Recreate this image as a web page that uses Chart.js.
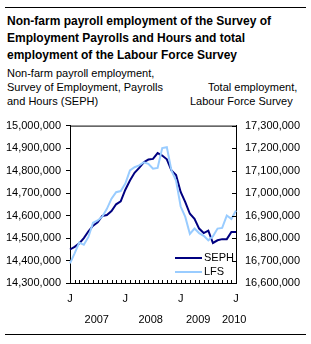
<!DOCTYPE html>
<html>
<head>
<meta charset="utf-8">
<script src="https://cdn.jsdelivr.net/npm/chart.js@4"></script>
<style>
  body { margin: 0; width: 311px; height: 344px; position: relative; background: #fff; overflow: hidden;
         font-family: "Liberation Sans", Arial, sans-serif; color: #000; }
  .rule { position: absolute; left: 5px; width: 301px; height: 0; border-top: 1px solid #000; }
  #title { position: absolute; left: 7px; top: 13px; font-size: 12px; font-weight: bold; line-height: 17px; white-space: nowrap; }
  #subLeft { position: absolute; left: 7px; top: 66px; font-size: 11px; line-height: 14px; white-space: nowrap; }
  .subRight { position: absolute; font-size: 11px; line-height: 14px; white-space: nowrap; }
  #wrap { position: absolute; left: 0; top: 110px; width: 311px; height: 234px; }
</style>
</head>
<body>
<div class="rule" style="top:7px"></div>
<div id="title">Non-farm payroll employment of the Survey of<br>Employment Payrolls and Hours and total<br>employment of the Labour Force Survey</div>
<div id="subLeft">Non-farm payroll employment,<br>Survey of Employment, Payrolls<br>and Hours (SEPH)</div>
<div class="subRight" style="left:208px;top:80px">Total employment,</div>
<div class="subRight" style="left:190px;top:94px">Labour Force Survey</div>
<div id="wrap"><canvas id="chart"></canvas></div>
<div class="rule" style="top:334px"></div>

<script>
// monthly, January 2007 to January 2010
const months = ['J','F','M','A','M','J','J','A','S','O','N','D',
                'J','F','M','A','M','J','J','A','S','O','N','D',
                'J','F','M','A','M','J','J','A','S','O','N','D',
                'J'];
const years = ['2007', '2008', '2009', '2010'];

// SEPH, thousands (left axis)
const seph = [14449, 14461, 14476, 14500, 14530, 14555, 14570, 14598, 14602, 14620, 14650, 14663,
              14715, 14756, 14790, 14812, 14837, 14849, 14852, 14878, 14867, 14850, 14801, 14780,
              14705, 14660, 14608, 14585, 14542, 14522, 14533, 14478, 14490, 14495, 14495, 14527,
              14527];

// LFS, thousands (right axis)
const lfs = [16687, 16732, 16780, 16770, 16805, 16868, 16878, 16895, 16930, 16975, 17004, 17009,
             17042, 17101, 17115, 17123, 17137, 17130, 17108, 17112, 17200, 17204, 17101, 17055,
             16940, 16894, 16818, 16842, 16822, 16810, 16790, 16808, 16842, 16845, 16900, 16885,
             16922];

const FONT = { family: '"Liberation Sans", Arial, sans-serif', size: 11 };
const fmt = v => v.toLocaleString('en-US');

// frame, inward ticks, year labels and legend
const extras = {
  id: 'extras',
  afterDraw(chart) {
    const { ctx, chartArea: a, scales } = chart;
    ctx.save();
    ctx.strokeStyle = '#000';
    ctx.lineWidth = 1;
    ctx.beginPath();
    ctx.moveTo(a.left, a.top + 0.5);
    ctx.lineTo(a.right, a.top + 0.5);
    months.forEach((m, i) => {
      const x = Math.round(scales.x.getPixelForValue(i)) + 0.5;
      ctx.moveTo(x, a.bottom);
      ctx.lineTo(x, a.bottom - 3);
    });
    scales.y2.ticks.forEach(t => {
      const y = Math.round(scales.y2.getPixelForValue(t.value)) + 0.5;
      ctx.moveTo(a.right, y);
      ctx.lineTo(a.right - 4, y);
    });
    ctx.stroke();

    ctx.fillStyle = '#000';
    ctx.font = '11px "Liberation Sans", Arial, sans-serif';
    ctx.textAlign = 'center';
    ctx.textBaseline = 'middle';
    const yearAt = [5.8, 17.5, 27.8, 35.6];
    years.forEach((yr, k) => {
      ctx.fillText(yr, scales.x.getPixelForValue(yearAt[k]), a.bottom + 37);
    });

    ctx.textAlign = 'left';
    chart.data.datasets.forEach((ds, k) => {
      const y = a.bottom - 25 + k * 14;
      ctx.strokeStyle = ds.borderColor;
      ctx.lineWidth = 2;
      ctx.beginPath();
      ctx.moveTo(a.right - 61, y);
      ctx.lineTo(a.right - 34, y);
      ctx.stroke();
      ctx.fillText(ds.label, a.right - 32, y);
    });
    ctx.restore();
  }
};

new Chart(document.getElementById('chart'), {
  type: 'line',
  data: {
    labels: months,
    datasets: [
      { label: 'SEPH', data: seph.map(v => v * 1000), yAxisID: 'y', order: 1,
        borderColor: '#000080', borderWidth: 2, pointRadius: 0, tension: 0 },
      { label: 'LFS', data: lfs.map(v => v * 1000), yAxisID: 'y2', order: 0,
        borderColor: '#99ccff', borderWidth: 2, pointRadius: 0, tension: 0 },
    ],
  },
  options: {
    responsive: true,
    maintainAspectRatio: false,
    animation: false,
    layout: { padding: { top: 15, left: 0, right: 0, bottom: 0 } },
    plugins: { legend: { display: false }, tooltip: { enabled: false } },
    scales: {
      x: {
        afterFit: s => { s.height = 61; },
        grid: { display: true, drawOnChartArea: false, drawTicks: false },
        border: { color: '#000', width: 1 },
        ticks: {
          autoSkip: false, maxRotation: 0, padding: 9, color: '#000', font: FONT,
          callback: (v, i) => (i % 12 === 0 ? 'J' : ''),
        },
      },
      y: {
        position: 'left',
        min: 14300000, max: 15000000,
        afterFit: s => { s.width = 70; },
        grid: { drawOnChartArea: false, color: '#000', tickLength: 4 },
        border: { color: '#000', width: 1 },
        ticks: { stepSize: 100000, padding: 5, color: '#000', font: FONT, callback: fmt },
      },
      y2: {
        position: 'right',
        min: 16600000, max: 17300000,
        afterFit: s => { s.width = 75; },
        grid: { drawOnChartArea: false, drawTicks: false },
        border: { color: '#000', width: 1 },
        ticks: { stepSize: 100000, padding: 9, color: '#000', font: FONT, callback: fmt },
      },
    },
  },
  plugins: [extras],
});
</script>
</body>
</html>
